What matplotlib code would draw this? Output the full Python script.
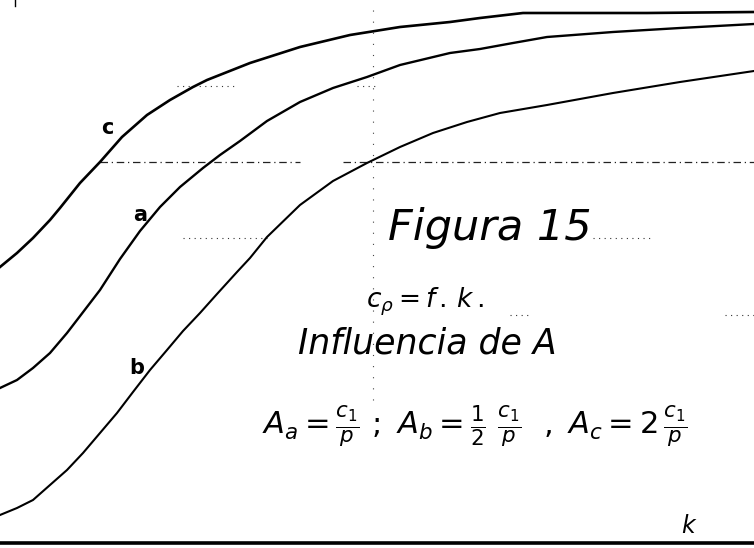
import matplotlib.pyplot as plt

# curvas cp = f(k) para tres valores de A
k_a = [0, 17, 33, 50, 67, 77, 100, 120, 140, 160, 180, 203, 220, 240, 267, 300, 333, 367, 400, 450, 480, 513, 547, 613, 680, 754]
cp_a = [155, 163, 175, 190, 210, 223, 253, 284, 312, 336, 356, 375, 388, 402, 422, 441, 455, 466, 478, 490, 494, 500, 506, 511, 515, 519]

k_b = [0, 17, 33, 50, 67, 83, 100, 117, 133, 150, 167, 183, 200, 217, 237, 250, 267, 300, 333, 367, 400, 433, 467, 500, 547, 613, 680, 754]
cp_b = [28, 35, 43, 58, 73, 90, 110, 130, 151, 173, 193, 212, 230, 249, 271, 285, 306, 338, 362, 380, 396, 410, 421, 430, 438, 450, 461, 472]

k_c = [0, 17, 33, 50, 60, 80, 100, 122, 147, 170, 193, 207, 250, 300, 350, 400, 450, 480, 523, 563, 647, 754]
cp_c = [276, 290, 305, 323, 335, 360, 381, 406, 428, 443, 456, 463, 480, 496, 508, 516, 521, 525, 530, 530, 530, 531]

# linhas de referencia (nivel, trechos em k)
guia_tracejada = (381, [(100, 300), (343, 754)])
guias_pontilhadas = [
    (457, [(177, 238), (357, 377)]),
    (305, [(183, 267), (593, 650)]),
    (228, [(510, 530), (725, 754)]),
]
k_vertical = 373

fig = plt.figure(figsize=(7.54, 5.48), dpi=100)
ax = fig.add_axes([0, 0, 1, 1])
ax.set_xlim(0, 754)
ax.set_ylim(-5, 543)
ax.axis("off")

# eixo k
ax.plot([0, 754], [0, 0], color="black", lw=2.6, solid_capstyle="butt")

# linhas auxiliares
nivel, trechos = guia_tracejada
for x0, x1 in trechos:
    ax.plot([x0, x1], [nivel, nivel], color="#222222", lw=0.9, ls=(0, (6, 3, 1, 3)))
for nivel, trechos in guias_pontilhadas:
    for x0, x1 in trechos:
        ax.plot([x0, x1], [nivel, nivel], color="#333333", lw=0.8, ls=(0, (1, 4)))
ax.plot([k_vertical, k_vertical], [143, 538], color="#444444", lw=0.8, ls=(0, (1, 9)))
ax.plot([15, 15], [537, 543], color="black", lw=1.0)

# curvas
ax.plot(k_c, cp_c, color="black", lw=1.9, solid_joinstyle="round")
ax.plot(k_a, cp_a, color="black", lw=1.7, solid_joinstyle="round")
ax.plot(k_b, cp_b, color="black", lw=1.5, solid_joinstyle="round")

# letras das curvas
rotulo = dict(fontsize=15, fontweight="bold", ha="center", va="center", family="DejaVu Sans")
ax.text(107, 415, "c", **rotulo)
ax.text(140, 328, "a", **rotulo)
ax.text(137, 175, "b", **rotulo)

# textos
plt.rcParams["mathtext.fontset"] = "dejavusans"
ax.text(388, 303, "Figura 15", fontsize=31, style="italic", ha="left", va="baseline")
ax.text(366, 236, r"$c_\rho = f\,.\,k\,.$", fontsize=19, ha="left", va="baseline")
ax.text(298, 190, "Influencia de A", fontsize=25, style="italic", ha="left", va="baseline")
ax.text(262, 117,
        r"$A_a = \frac{c_1}{p}\ ;\ A_b = \frac{1}{2}\ \frac{c_1}{p}\ \ ,\ A_c = 2\,\frac{c_1}{p}$",
        fontsize=22, ha="left", va="center")
ax.text(688, 17, "k", fontsize=17, style="italic", ha="center", va="center")

fig.savefig("out.png", dpi=100)
